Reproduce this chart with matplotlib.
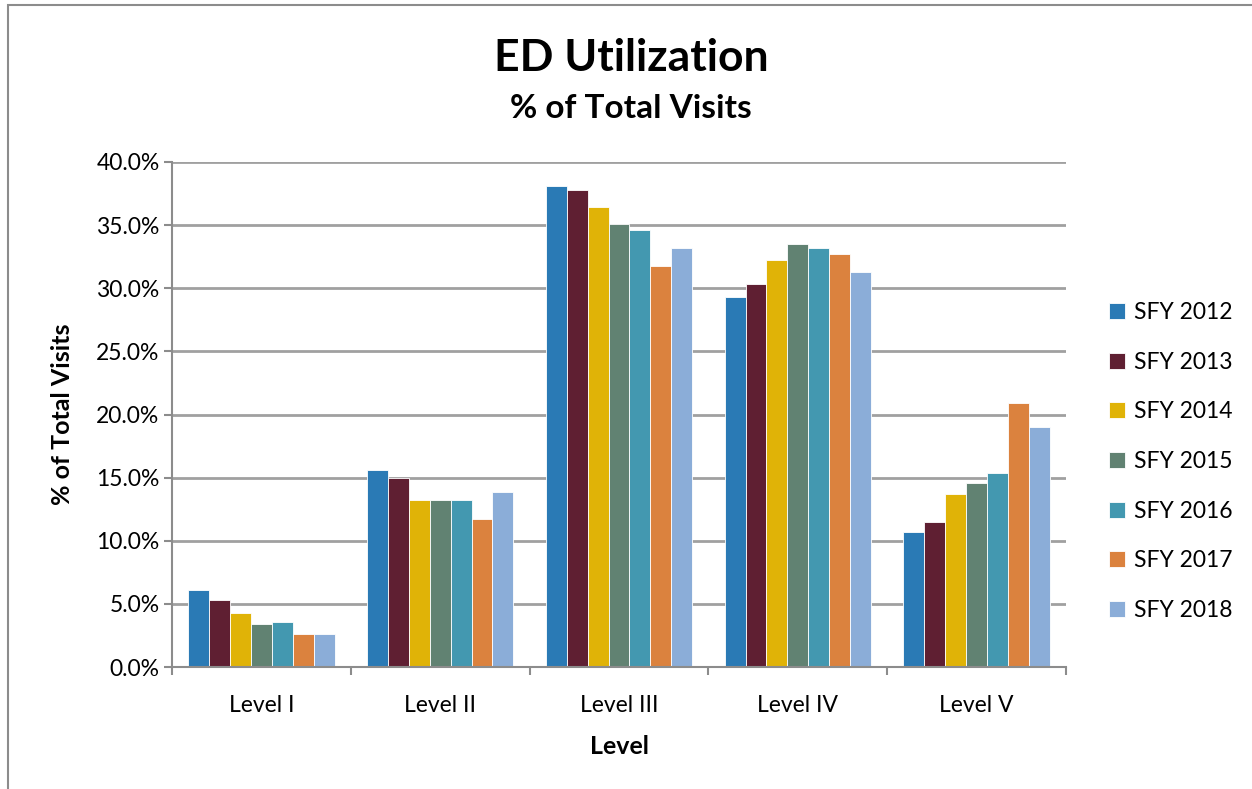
import numpy as np
import matplotlib.pyplot as plt
from matplotlib.patches import Rectangle
from matplotlib.ticker import FuncFormatter, FixedLocator

plt.rcParams['font.family'] = ['Lato', 'DejaVu Sans']

# ED utilization, % of total visits by level and fiscal year
levels = ["Level I", "Level II", "Level III", "Level IV", "Level V"]
years = ["SFY 2012", "SFY 2013", "SFY 2014", "SFY 2015", "SFY 2016", "SFY 2017", "SFY 2018"]
sfy2012 = [6.1, 15.6, 38.1, 29.3, 10.7]
sfy2013 = [5.3, 15.0, 37.8, 30.3, 11.5]
sfy2014 = [4.3, 13.2, 36.4, 32.2, 13.7]
sfy2015 = [3.4, 13.2, 35.1, 33.5, 14.6]
sfy2016 = [3.6, 13.2, 34.6, 33.2, 15.4]
sfy2017 = [2.6, 11.7, 31.8, 32.7, 20.9]
sfy2018 = [2.6, 13.9, 33.2, 31.3, 19.0]
series = [sfy2012, sfy2013, sfy2014, sfy2015, sfy2016, sfy2017, sfy2018]
colors = ["#2a7ab5", "#5f1f32", "#e0b307", "#618272", "#4398b0", "#db823e", "#8badd8"]

fig = plt.figure(figsize=(12.52, 7.89), dpi=100)
ax = fig.add_axes([172 / 1252, 1 - 667 / 789, (1066 - 172) / 1252, (667 - 162) / 789])

# outer chart frame
fig.patches.append(Rectangle((8 / 1252, -0.01), 1.1, 1 - 5 / 789 + 0.01, transform=fig.transFigure,
                             fill=False, edgecolor="#8c8c8c", linewidth=1.5))

x = np.arange(len(levels))
width = 0.117
for i, (vals, c, name) in enumerate(zip(series, colors, years)):
    ax.bar(x + (i - 3) * width, vals, width, color=c, edgecolor="white", linewidth=0.6, label=name, zorder=3)

ax.set_xlim(-0.5, len(levels) - 0.5)
ax.set_ylim(0, 40)
ax.set_yticks(np.arange(0, 40.1, 5))
ax.yaxis.set_major_formatter(FuncFormatter(lambda v, p: f"{v:.1f}%"))
ax.grid(axis="y", color="#a0a0a0", linewidth=2, zorder=0)

ax.set_xticks(x)
ax.set_xticklabels(levels)
ax.xaxis.set_minor_locator(FixedLocator(np.arange(-0.5, len(levels), 1)))
ax.tick_params(axis="x", which="major", length=0, pad=20, labelsize=16.5)
ax.tick_params(axis="x", which="minor", length=6, width=1.5, color="#8c8c8c", direction="out")
ax.tick_params(axis="y", length=6, width=1.5, color="#8c8c8c", direction="out", labelsize=16.5, pad=3)

for s in ["top", "right"]:
    ax.spines[s].set_visible(False)
for s in ["left", "bottom"]:
    ax.spines[s].set_color("#8c8c8c")
    ax.spines[s].set_linewidth(1.5)
    ax.spines[s].set_zorder(4)

ax.set_xlabel("Level", fontsize=18, fontweight="bold", labelpad=14)
ax.set_ylabel("% of Total Visits", fontsize=18, fontweight="bold", labelpad=16)

fig.text(0.504, 0.926, "ED Utilization", ha="center", va="center", fontsize=32, fontweight="bold")
fig.text(0.504, 0.862, "% of Total Visits", ha="center", va="center", fontsize=24, fontweight="bold")

fig.legend(loc="center left", bbox_to_anchor=(0.869, 0.415), frameon=False, fontsize=16.5,
           handlelength=0.7, handleheight=0.7, handletextpad=0.4, labelspacing=1.25)

fig.savefig("out.png", dpi=100)
